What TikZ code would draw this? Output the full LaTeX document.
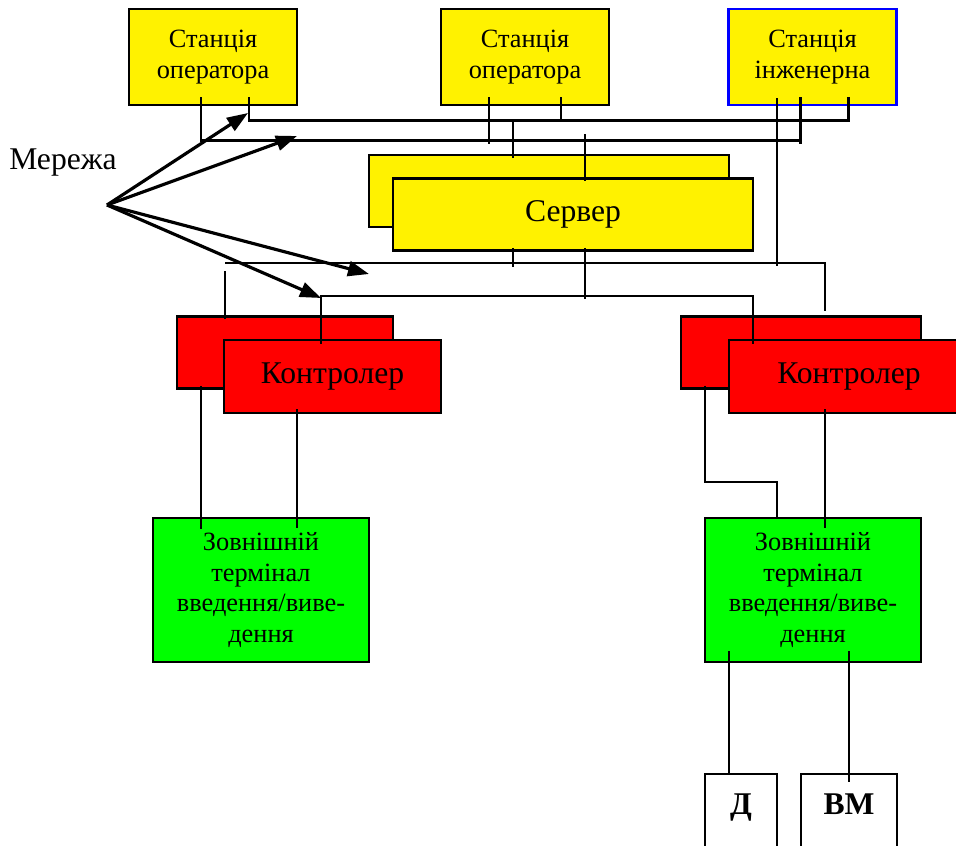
\documentclass[tikz,border=0pt]{standalone}
\usepackage{fontspec}
\setmainfont{Liberation Serif}
\usetikzlibrary{arrows.meta,calc}

\begin{document}
\begin{tikzpicture}[x=0.02cm,y=-0.02cm,line width=1.5pt,
        >={Triangle[length=4.2mm,width=3mm]},
        box/.style={draw,rectangle,inner sep=0pt,align=center},
        station/.style={box,fill=yellow,minimum width=3.36cm,minimum height=1.92cm,
            font=\fontsize{15}{17.6}\selectfont},
        server/.style={box,fill=yellow,minimum width=7.2cm,minimum height=1.44cm,
            font=\fontsize{18}{21}\selectfont},
        controller/.style={box,fill=red,minimum width=4.32cm,minimum height=1.44cm,
            font=\fontsize{18}{21}\selectfont},
        terminal/.style={box,fill=green,minimum width=4.32cm,minimum height=2.88cm,
            font=\fontsize{15}{17.6}\selectfont},
        device/.style={box,minimum height=1.6cm,text height=12pt,text depth=12pt,
            font=\fontsize{18}{21}\selectfont\bfseries},
        bus/.style={line width=1pt}]
    \useasboundingbox (0,0) rectangle (956,845);

    % stations
    \node[station] (op1) at (213,57) {Станція\\оператора};
    \node[station] (op2) at (525,57) {Станція\\оператора};
    \node[station,draw=blue] (eng) at (812.5,57) {Станція\\інженерна};

    % server
    \node[server] (srvb) at (549,191) {};
    \node[server] (srv) at (573,214.5) {Сервер};

    % controllers
    \node[controller] (ctrbl) at (285,352.5) {};
    \node[controller,minimum width=4.34cm,minimum height=1.46cm] (ctrfl) at (332.5,376.5) {Контролер};
    \node[controller,minimum width=4.8cm] (ctrbr) at (801,352.5) {};
    \node[controller,minimum width=4.8cm,minimum height=1.46cm] (ctrfr) at (849,376.5) {Контролер};

    % terminals
    \node[terminal] (tl) at (261,590) {Зовнішній\\термінал\\введення/виве-\\дення};
    \node[terminal] (tr) at (813,590) {Зовнішній\\термінал\\введення/виве-\\дення};

    % field devices
    \node[device,minimum width=1.44cm] (d) at (741,814) {Д};
    \node[device,minimum width=1.92cm] (vm) at (849,814) {ВМ};

    % network label
    \node[font=\fontsize{18}{21}\selectfont] (net) at (63,163) {Мережа};
    \coordinate (src) at (107,205);

    % upper network
    \draw ($(op1.south)+(36,-9)$) -- ++(0,23) -| ($(eng.south)+(36,-9)$);
    \draw ($(op1.south)+(-12,-9)$) -- ++(0,43) -- ($(eng.south)+(-12,34)$);
    \draw ($(eng.south)+(-12,-9)$) -- ++(0,47);
    \draw ($(op2.south)+(36,-9)$) -- ++(0,23);
    \draw ($(op2.south)+(-36,-9)$) -- ++(0,47);
    \draw ($(srvb.north)+(-36,-33)$) -- ++(0,37);
    \draw ($(srv.north)+(12,-43)$) -- ++(0,47);

    % lower network
    \draw[bus] ($(ctrbl.north)+(-60,-52)$) -| ($(ctrbr.north)+(24,-4)$);
    \draw ($(ctrbl.north)+(-60,-44)$) -- ++(0,48);
    \draw ($(eng.south)+(-35.5,-8)$) -- ++(0,168);
    \draw ($(srv.south)+(-60,-4)$) -- ++(0,19);
    \draw[bus] ($(ctrfl.north)+(-11.5,5)$) -- ++(0,-48) -| ($(ctrfr.north)+(-96,5)$);
    \draw ($(srv.south)+(12,-4)$) -- ++(0,51);

    % controllers to terminals
    \draw ($(ctrbl.south)+(-84,-4)$) -- ++(0,143);
    \draw ($(ctrfl.south)+(-35.5,-5)$) -- ++(0,119);
    \draw ($(ctrbr.south)+(-96,-4)$) -- ++(0,96) -| ($(tr.north)+(-36,0)$);
    \draw ($(ctrfr.south)+(-24,-5)$) -- ++(0,119);

    % terminal to devices
    \draw ($(tr.south)+(-84,-12)$) -- ($(d.north)+(-12,0)$);
    \draw ($(tr.south)+(36,-12)$) -- ($(vm.north)+(0,9)$);

    % arrows from the network label
    \coordinate (tipa) at (248,113);
    \coordinate (tipb) at (297,136);
    \coordinate (tipc) at (369,274);
    \coordinate (tipd) at (321,298);
    \foreach \t in {tipa,tipb,tipc,tipd}
        \draw[->,line width=1.8pt] (src) -- (\t);
\end{tikzpicture}
\end{document}
